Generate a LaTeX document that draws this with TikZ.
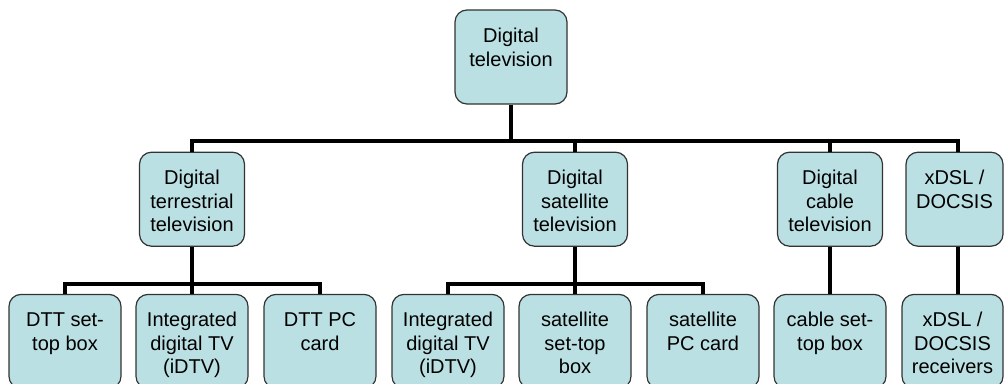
\documentclass[tikz,border=0pt]{standalone}
\usepackage{fontspec}
\setmainfont{Liberation Sans}
\usetikzlibrary{positioning, calc}

\definecolor{tvcyan}{RGB}{187,224,227}
% text of a box: fixed height, first line at the top
\newcommand{\tvtext}[2]{\parbox[c][94pt][t]{#1}{\centering\rule{0pt}{32.5pt}#2}}

\begin{document}
\begin{tikzpicture}[x=1pt, y=-1pt]
		% styles
			\tikzstyle{block} = [draw=black!80, line width=1.2pt, fill=tvcyan, rounded corners=12pt, inner sep=0pt, font=\fontsize{20pt}{23.5pt}\selectfont]
			\tikzstyle{conn} = [line width=4pt, black]
			
			\useasboundingbox (0,0) rectangle (1004,383);
			
			% top
			\node [block] (root) at (511,57) {\tvtext{112pt}{Digital\\television}};
			
			% middle row
			\node [block, below=47pt of root, xshift=-319pt] (terr) {\tvtext{105pt}{Digital\\terrestrial\\television}};
			\node [block, below=47pt of root, xshift=64pt] (sat) {\tvtext{105pt}{Digital\\satellite\\television}};
			\node [block, below=47pt of root, xshift=319pt] (cable) {\tvtext{105pt}{Digital\\cable\\television}};
			\node [block, below=47pt of root, xshift=443.5pt] (xdsl) {\tvtext{97pt}{xDSL /\\DOCSIS}};
			
			% bottom row
			\node [block, below=47pt of terr, xshift=-127pt] (dttstb) {\tvtext{112pt}{DTT set-\\top box}};
			\node [block, below=47pt of terr] (idtvone) {\tvtext{112pt}{Integrated\\digital TV\\(iDTV)}};
			\node [block, below=47pt of terr, xshift=128pt] (dttpc) {\tvtext{112pt}{DTT PC\\card}};
			\node [block, below=47pt of sat, xshift=-127pt] (idtvtwo) {\tvtext{112pt}{Integrated\\digital TV\\(iDTV)}};
			\node [block, below=47pt of sat] (satstb) {\tvtext{112pt}{satellite\\set-top\\box}};
			\node [block, below=47pt of sat, xshift=128pt] (satpc) {\tvtext{112pt}{satellite\\PC card}};
			\node [block, below=47pt of cable] (cablestb) {\tvtext{112pt}{cable set-\\top box}};
			\node [block, below=47pt of xdsl, xshift=-2pt] (xdslrx) {\tvtext{101pt}{xDSL /\\DOCSIS\\receivers}};
			
			\coordinate (topbus) at (0,141);
			\coordinate (lowbus) at (0,284);
			\coordinate (xdslcol) at (958,0);
			
			% connectors
			\draw [conn] (root.south) -- (root.south |- topbus);
			\draw [conn] (terr.north) |- (xdslcol |- topbus) -- (xdslcol |- xdsl.north);
			\draw [conn] (sat.north) -- (sat.north |- topbus);
			\draw [conn] (cable.north) -- (cable.north |- topbus);
			
			\draw [conn] (terr.south) -- (terr.south |- lowbus);
			\draw [conn] (dttstb.north) |- (dttpc.north |- lowbus) -- (dttpc.north);
			\draw [conn] (idtvone.north) -- (idtvone.north |- lowbus);
			\draw [conn] (sat.south) -- (sat.south |- lowbus);
			\draw [conn] (idtvtwo.north) |- (satpc.north |- lowbus) -- (satpc.north);
			\draw [conn] (satstb.north) -- (satstb.north |- lowbus);
			\draw [conn] (cable.south) -- (cablestb.north);
			\draw [conn] (xdslcol |- xdsl.south) -- (xdslcol |- xdslrx.north);
		\end{tikzpicture}
\end{document}
